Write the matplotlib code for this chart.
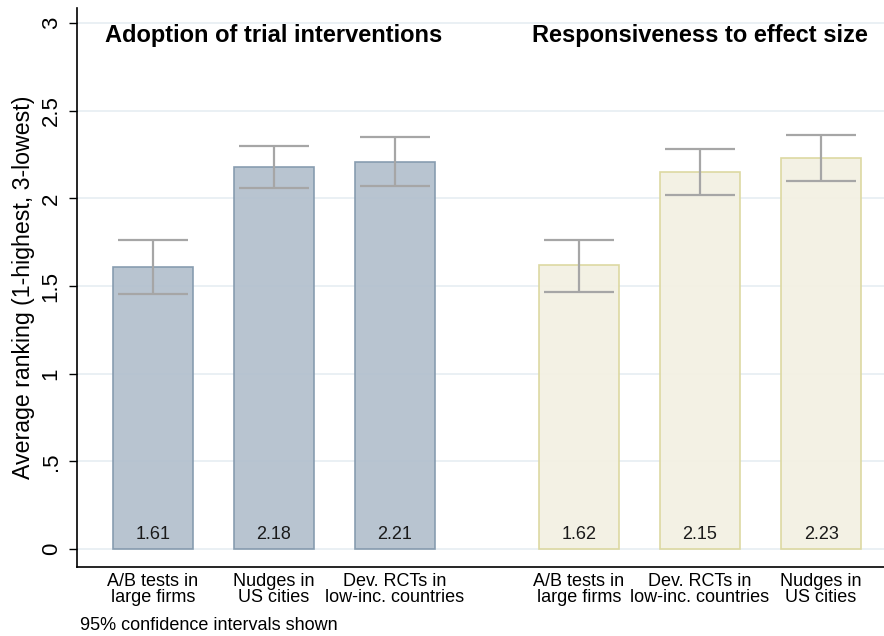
import matplotlib.pyplot as plt
import numpy as np

plt.rcParams['font.family'] = ['Liberation Sans', 'DejaVu Sans']

# Data
panel_titles = ['Adoption of trial interventions', 'Responsiveness to effect size']
adopt_labels = ['A/B tests in\nlarge firms', 'Nudges in\nUS cities', 'Dev. RCTs in\nlow-inc. countries']
adopt_means = [1.61, 2.18, 2.21]
adopt_lo = [1.455, 2.059, 2.071]
adopt_hi = [1.763, 2.299, 2.350]

resp_labels = ['A/B tests in\nlarge firms', 'Dev. RCTs in\nlow-inc. countries', 'Nudges in\nUS cities']
resp_means = [1.62, 2.15, 2.23]
resp_lo = [1.466, 2.019, 2.099]
resp_hi = [1.763, 2.282, 2.362]

y_ticks = [0, 0.5, 1, 1.5, 2, 2.5, 3]
y_ticklabels = ['0', '.5', '1', '1.5', '2', '2.5', '3']

fig = plt.figure(figsize=(8.84, 6.36), dpi=100)
ax = fig.add_axes([77 / 884, 69 / 636, 807 / 884, 559 / 636])

pos1 = np.array([1.0, 2.0, 3.0])
pos2 = pos1 + 3.52
width = 0.66

groups = [
    (pos1, adopt_means, adopt_lo, adopt_hi, '#b4c1ce', '#8499ad'),
    (pos2, resp_means, resp_lo, resp_hi, '#f3f1e3', '#dbd79e'),
]

for pos, means, lo, hi, fc, ec in groups:
    ax.bar(pos, means, width=width, color=fc, edgecolor=ec, linewidth=1.2,
           alpha=0.95, zorder=2)
    means = np.array(means)
    err = [means - np.array(lo), np.array(hi) - means]
    ax.errorbar(pos, means, yerr=err, fmt='none', ecolor='#a6a6a6',
                elinewidth=1.6, capsize=25, capthick=1.6, zorder=3)
    # value labels sit near the bottom of each bar
    for x, m in zip(pos, means):
        ax.text(x, 0.085, f'{m:.2f}', ha='center', va='center', fontsize=13,
                color='#1a1a1a', zorder=4)

for y in y_ticks:
    ax.axhline(y, color='#e6eef2', linewidth=1.2, zorder=1)

ax.set_xlim(0.372, 7.04)
ax.set_ylim(-0.103, 3.086)
ax.set_yticks(y_ticks)
ax.set_yticklabels(y_ticklabels, rotation=90, va='center', fontsize=16)
ax.tick_params(axis='y', length=6, width=1, pad=5)
ax.set_xticks(list(pos1) + list(pos2))
ax.set_xticklabels(adopt_labels + resp_labels, fontsize=13, linespacing=0.95)
ax.tick_params(axis='x', length=0, pad=4)
ax.set_ylabel('Average ranking (1-highest, 3-lowest)', fontsize=16.7, labelpad=4)

for sp in ['top', 'right']:
    ax.spines[sp].set_visible(False)
ax.spines['left'].set_linewidth(1.2)
ax.spines['bottom'].set_linewidth(1.2)

ax.text(pos1[1], 2.93, panel_titles[0], ha='center', va='center',
        fontsize=17, fontweight='bold')
ax.text(pos2[1], 2.93, panel_titles[1], ha='center', va='center',
        fontsize=17, fontweight='bold')

fig.text(80 / 884, 1 - 625 / 636, '95% confidence intervals shown', ha='left',
         va='center', fontsize=13)

fig.savefig('out.png', dpi=100)
